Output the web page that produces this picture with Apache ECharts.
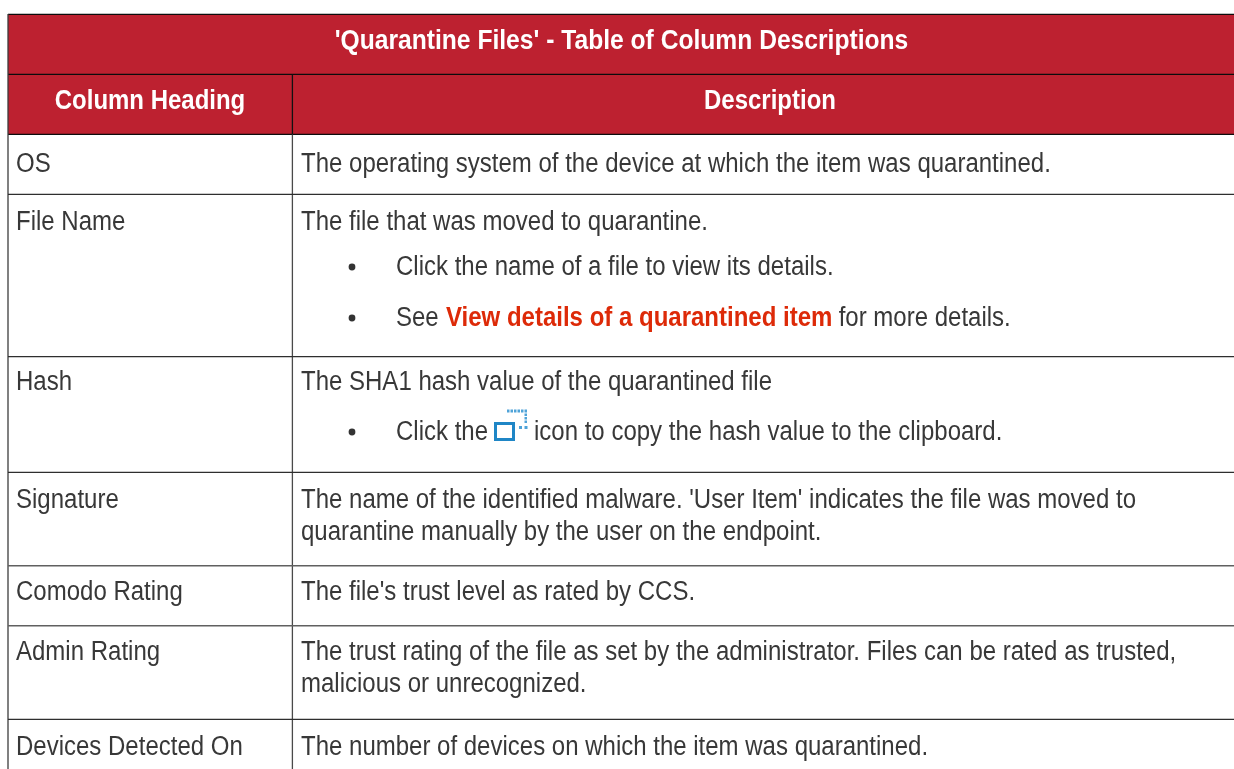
<!DOCTYPE html>
<html><head><meta charset="utf-8">
<style>html,body{margin:0;padding:0;background:#fff}#c{width:1234px;height:769px}</style>
<script src="https://cdn.jsdelivr.net/npm/echarts@6/dist/echarts.min.js"></script></head>
<body><div id="c"></div>
<script>
const tableTitle = "'Quarantine Files' - Table of Column Descriptions";
const columnHeadings = ["Column Heading", "Description"];
const rowHeadings = ["OS","File Name","Hash","Signature","Comodo Rating","Admin Rating","Devices Detected On"];
const rowDescriptions = [
 ["The operating system of the device at which the item was quarantined."],
 ["The file that was moved to quarantine."],
 ["The SHA1 hash value of the quarantined file"],
 ["The name of the identified malware. 'User Item' indicates the file was moved to","quarantine manually by the user on the endpoint."],
 ["The file's trust level as rated by CCS."],
 ["The trust rating of the file as set by the administrator. Files can be rated as trusted,","malicious or unrecognized."],
 ["The number of devices on which the item was quarantined."]
];
const fileBullets = ["Click the name of a file to view its details.","See ","View details of a quarantined item"," for more details."];
const hashBullet = ["Click the","icon to copy the hash value to the clipboard."];

const rowLines = [194.4,356.7,472.3,565.7,625.7,719.4];
const rowBaselines = [173.5,232,391.5,510,602,662,757];
const LINE_GAP = 32;
const RED='#bd2130', INK='#383838', LINK='#dd2a08', ICON='#1f86c6', DOT='#4fa3d8';
const FONT='"Liberation Sans", Arial, sans-serif';
const SX=0.889, SIZE=27, OFF=9;
const L=8, V=292.4, R=1234, END=769;
const els=[];
function rect(x,y,w,h,fill){els.push({type:'rect',shape:{x,y,width:w,height:h},style:{fill},silent:true});}
function line(x1,y1,x2,y2,stroke,w){els.push({type:'line',shape:{x1,y1,x2,y2},style:{stroke,lineWidth:w||1.2},silent:true});}
function text(t,x,base,o={}){els.push({type:'text',x,y:base-OFF,scaleX:o.sx||SX,originX:0,originY:0,style:{text:t,fill:o.fill||INK,font:(o.bold?'bold ':'')+SIZE+'px '+FONT,textAlign:o.align||'left',textVerticalAlign:'middle'},silent:true});}
rect(L,14,R-L,121,RED);
[14.4,74.4,134.4].forEach(y=>line(L,y,R,y,'#0c0c0c',1.3));
line(V,74.4,V,134.4,'#111',1.3);
line(L,14,L,END,'#3c3c3c',1.3);line(V,134.4,V,END,'#4a4a4a',1.3);
rowLines.forEach((y,i)=>line(L,y,R,y,i===3||i===4?'#606060':'#2e2e2e',i===3||i===4?1.6:1.2));
text(tableTitle,621.5,51,{bold:true,fill:'#fff',align:'center',sx:0.912});
text(columnHeadings[0],150,111,{bold:true,fill:'#fff',align:'center',sx:0.888});
text(columnHeadings[1],770,111,{bold:true,fill:'#fff',align:'center',sx:0.888});
rowHeadings.forEach((t,i)=>text(t,16,rowBaselines[i]));
rowDescriptions.forEach((ls,i)=>ls.forEach((t,j)=>text(t,301,rowBaselines[i]+j*LINE_GAP)));
// bullets
[267,318,432].forEach(cy=>els.push({type:'circle',shape:{cx:352,cy,r:3.4},style:{fill:'#333'},silent:true}));
text(fileBullets[0],396,277);
text(fileBullets[1],396,328);
text(fileBullets[2],446,328,{bold:true,fill:LINK,sx:0.889});
text(fileBullets[3],832,328);
text(hashBullet[0],396,442);
text(hashBullet[1],534,442);
// copy icon
els.push({type:'rect',shape:{x:495.5,y:423.5,width:18,height:16},style:{fill:'none',stroke:ICON,lineWidth:3},silent:true});
[507,510.5,514,517.5,521,524.5].forEach(x=>rect(x,409.5,2.5,3,DOT));
[413.5,417,420.5].forEach(y=>rect(524.5,y,2.5,2.5,DOT));
[519,524.5].forEach(x=>rect(x,426,3,3,DOT));
const chart=echarts.init(document.getElementById('c'),null,{renderer:'canvas'});
chart.setOption({animation:false,graphic:{elements:els}});
</script></body></html>
